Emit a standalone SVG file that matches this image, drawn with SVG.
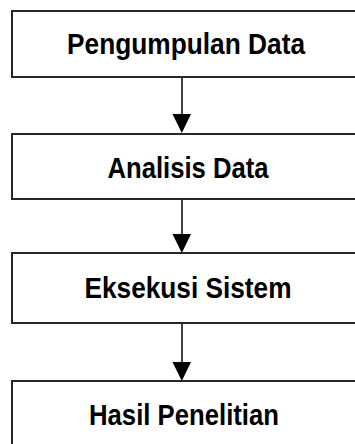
<svg xmlns="http://www.w3.org/2000/svg" width="355" height="444" viewBox="0 0 355 444">
  <defs>
    <style>
      .box { fill: #ffffff; stroke: #262626; stroke-width: 2; }
      .label { font-family: "Liberation Sans", Arial, sans-serif; font-weight: bold; font-size: 30px; fill: #000; text-anchor: middle; }
      .link { stroke: #000; stroke-width: 1.5; fill: none; }
      .head { fill: #000; }
    </style>
  </defs>
  <rect width="355" height="444" fill="#ffffff"/>

  <g id="connectors">
    <line class="link" x1="182" y1="77" x2="182" y2="116"/>
    <polygon class="head" points="172.5,114 191,114 181.8,133"/>
    <line class="link" x1="182" y1="199" x2="182" y2="236"/>
    <polygon class="head" points="172.5,234 191,234 181.8,253"/>
    <line class="link" x1="182" y1="323" x2="182" y2="364"/>
    <polygon class="head" points="172.5,362 191,362 181.8,381"/>
  </g>

  <g id="pengumpulan-data">
    <rect class="box" x="12" y="11" width="360" height="66"/>
    <text class="label" x="186" y="53.5" textLength="238" lengthAdjust="spacingAndGlyphs">Pengumpulan Data</text>
  </g>

  <g id="analisis-data">
    <rect class="box" x="12" y="134" width="360" height="65"/>
    <text class="label" x="188" y="177.5" textLength="161" lengthAdjust="spacingAndGlyphs">Analisis Data</text>
  </g>

  <g id="eksekusi-sistem">
    <rect class="box" x="12" y="253" width="360" height="70"/>
    <text class="label" x="188" y="297.5" textLength="207" lengthAdjust="spacingAndGlyphs">Eksekusi Sistem</text>
  </g>

  <g id="hasil-penelitian">
    <rect class="box" x="12" y="381" width="360" height="80"/>
    <text class="label" x="184" y="424.5" textLength="190" lengthAdjust="spacingAndGlyphs">Hasil Penelitian</text>
  </g>
</svg>
